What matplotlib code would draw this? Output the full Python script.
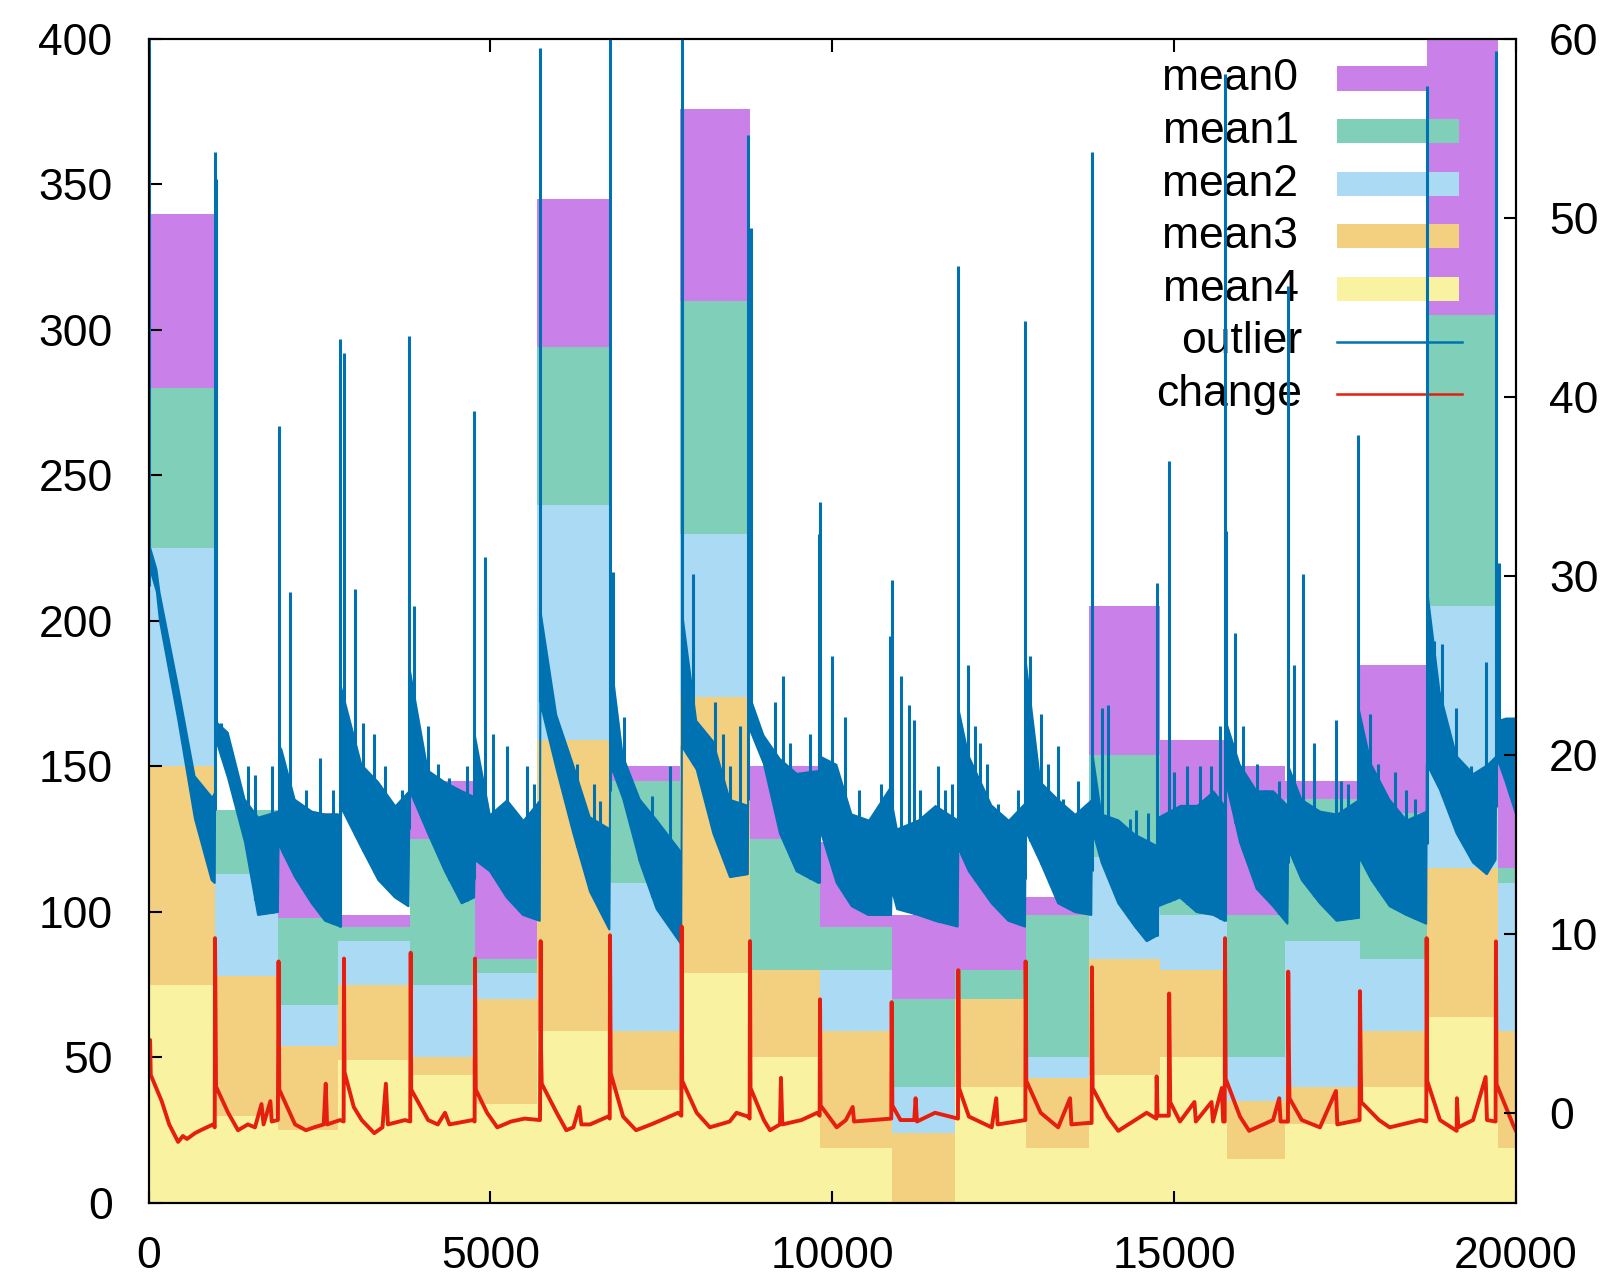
import numpy as np
import matplotlib
matplotlib.use('Agg')
import matplotlib.pyplot as plt
from matplotlib.patches import Rectangle

plt.rcParams['font.family'] = ['Liberation Sans', 'DejaVu Sans']

# ---------------- data ----------------
edges = [0, 970, 1895, 2770, 3820, 4775, 5680, 6750, 7775, 8800, 9820, 10870,
         11800, 12840, 13750, 14790, 15770, 16630, 17720, 18700, 19745, 20000]
mean0 = [340, 135, 134, 99, 145, 119, 345, 150, 376, 150, 124, 99, 120, 105, 205, 159, 150, 145, 185, 420, 165]
mean1 = [280, 135, 98, 95, 125, 84, 294, 145, 310, 125, 95, 70, 80, 99, 154, 129, 99, 139, 134, 305, 115]
mean2 = [225, 113, 68, 90, 75, 79, 240, 110, 230, 80, 80, 40, 70, 50, 119, 99, 50, 90, 84, 205, 110]
mean3 = [150, 78, 54, 75, 50, 70, 159, 59, 174, 80, 59, 24, 70, 43, 84, 80, 35, 40, 59, 115, 59]
mean4 = [75, 30, 25, 49, 44, 34, 59, 39, 79, 50, 19, 0, 40, 19, 44, 50, 15, 27, 40, 64, 19]

out_x = [0, 20, 120, 165, 433, 677, 921, 965,
         975, 1162, 1409, 1600, 1890,
         1900, 1950, 2141, 2385, 2580, 2805,
         2815, 3116, 3360, 3603, 3800,
         3815, 4088, 4335, 4579, 4760,
         4770, 4994, 5238, 5476, 5720,
         5730, 5969, 6213, 6457, 6740,
         6752, 6941, 7189, 7432, 7790,
         7800, 8017, 8261, 8505, 8765,
         8775, 9000, 9236, 9480, 9800,
         9815, 10066, 10286, 10527, 10860,
         10870, 10950, 11256, 11504, 11835,
         11845, 12000, 12333, 12577, 12820,
         12830, 13050, 13306, 13550, 13790,
         13800, 13942, 14186, 14430, 14601, 14760,
         14770, 15088, 15332, 15576, 15740,
         15750, 15966, 16210, 16450, 16660,
         16670, 16870, 17136, 17380, 17700,
         17710, 17890, 18156, 18400, 18690,
         18700, 18892, 19136, 19376, 19576, 19705,
         19715, 19850, 20000]
out_lo = [212, 218, 210, 200, 166, 132, 111, 110,
          160, 146, 124, 99, 100,
          124, 121, 112, 103, 97, 95,
          136, 122, 111, 105, 102,
          142, 127, 114, 103, 105,
          118, 114, 105, 99, 97,
          172, 149, 127, 107, 94,
          151, 139, 117, 101, 89,
          157, 149, 127, 112, 113,
          164, 151, 127, 114, 110,
          129, 110, 102, 99, 99,
          108, 101, 99, 97, 95,
          122, 114, 103, 97, 95,
          128, 117, 103, 100, 99,
          129, 117, 103, 95, 90, 92,
          102, 105, 100, 99, 97,
          146, 124, 108, 102, 96,
          122, 111, 103, 97, 98,
          119, 111, 102, 99, 96,
          151, 142, 127, 117, 113, 118,
          154, 145, 134]
out_hi = [226, 226, 218, 210, 178, 147, 140, 142,
          166, 162, 139, 133, 135,
          158, 156, 139, 135, 134, 134,
          178, 151, 145, 137, 142,
          185, 149, 145, 142, 140,
          162, 134, 139, 132, 139,
          205, 168, 151, 133, 129,
          190, 154, 139, 132, 121,
          205, 166, 159, 139, 137,
          176, 161, 153, 148, 149,
          154, 151, 134, 132, 144,
          139, 129, 132, 137, 132,
          171, 154, 137, 132, 138,
          188, 145, 139, 134, 139,
          157, 134, 132, 127, 125, 123,
          133, 137, 137, 142, 137,
          167, 151, 142, 142, 137,
          151, 139, 135, 134, 139,
          170, 151, 139, 132, 135,
          213, 176, 154, 148, 151, 154,
          166, 167, 167]

spike_x = [0, 970, 990, 1060, 1250, 1450, 1560, 1800,
           1900, 2060, 1990, 2300, 2510, 2700,
           2805, 2850, 3020, 3140, 3300, 3450, 3700,
           3810, 3885, 4088, 4230, 4400, 4650,
           4765, 4915, 5040, 5238, 5530, 5640,
           5730, 5900, 6270, 6510, 6600,
           6750, 6800, 6950, 7180, 7370, 7620,
           7800, 7963, 8280, 8400, 8500, 8650,
           8770, 8815, 9160, 9280, 9380, 9680,
           9800, 9822, 9990, 10190, 10390, 10720, 10850,
           10870, 11000, 11120, 11200, 11280, 11550, 11650, 11750,
           11845, 11980, 12090, 12160, 12260, 12420, 12720,
           12825, 12900, 13060, 13150, 13300, 13380, 13590,
           13795, 13942, 14030, 14350, 14450, 14620, 14745,
           14930, 15000, 15190, 15380, 15540, 15680,
           15740, 15765, 15900, 16010, 16220, 16330, 16540,
           16668, 16760, 16885, 17050, 17370, 17450, 17550,
           17700, 17870, 17990, 18230, 18400, 18520,
           18695, 18800, 18920, 19120, 19350, 19560,
           19710, 19760]
spike_top = [400, 361, 352, 165, 148, 150, 147, 150,
             267, 210, 148, 142, 153, 142,
             297, 292, 211, 165, 161, 150, 142,
             298, 205, 164, 151, 146, 150,
             272, 222, 161, 157, 150, 144,
             397, 175, 151, 144, 138,
             420, 217, 167, 139, 140, 150,
             420, 216, 172, 161, 150, 164,
             367, 335, 172, 181, 158, 161,
             230, 241, 188, 167, 142, 144, 195,
             214, 181, 171, 166, 142, 150, 142, 144,
             322, 185, 164, 158, 151, 137, 142,
             303, 188, 168, 151, 157, 139, 145,
             361, 170, 171, 132, 135, 134, 213,
             255, 148, 150, 150, 150, 164,
             388, 231, 196, 164, 151, 142, 145,
             315, 185, 216, 158, 166, 145, 144,
             264, 168, 151, 148, 142, 139,
             384, 193, 192, 170, 150, 186,
             396, 220]

chg_x = [0, 20, 30, 190, 300, 430, 500, 560, 677, 760, 850, 940, 966,
         970, 975, 985, 1162, 1307, 1450, 1555, 1650, 1680, 1780, 1800, 1890,
         1900, 1910, 2141, 2300, 2420, 2560, 2590, 2610, 2800,
         2852, 2857, 2865, 3000, 3116, 3300, 3420, 3470, 3500, 3750, 3826,
         3833, 3840, 4088, 4230, 4335, 4400, 4740, 4768,
         4774, 4785, 4950, 5100, 5300, 5500, 5725,
         5735, 5740, 5750, 5969, 6110, 6213, 6300, 6330, 6457, 6720, 6745,
         6749, 6760, 6941, 7130, 7350, 7500, 7745, 7793,
         7798, 7805, 8017, 8210, 8500, 8600, 8769, 8792,
         8797, 8805, 9000, 9090, 9236, 9250, 9270, 9550, 9780, 9816,
         9822, 9830, 10066, 10200, 10300, 10320, 10600, 10864,
         10870, 10880, 11000, 11200, 11220, 11240, 11504, 11840,
         11845, 11855, 12000, 12333, 12400, 12420, 12821, 12826,
         12830, 12840, 13050, 13306, 13480, 13500, 13740, 13795,
         13800, 13810, 14030, 14186, 14600, 14742, 14747, 14760, 14925,
         14930, 14945, 15088, 15300, 15320, 15550, 15570, 15700, 15720, 15743,
         15747, 15757, 15966, 16100, 16450, 16540, 16560, 16668,
         16672, 16680, 16690, 16870, 17136, 17370, 17390, 17700, 17716,
         17721, 17730, 17740, 18000, 18156, 18600, 18692,
         18697, 18705, 18892, 19136, 19140, 19160, 19376, 19560, 19580, 19706,
         19711, 19720, 19960, 20000]
chg_y = [56, 56, 44, 35, 27, 21, 23, 22, 24, 25, 26, 27, 26,
         91, 76, 40, 31, 25, 27, 26, 34, 27, 35, 28, 28.5,
         83, 39, 27, 25, 26, 27, 41, 27, 28.5,
         28, 84, 45, 33, 28.5, 24, 26, 41, 27, 28.5, 28,
         86, 39, 28.5, 27, 31, 27, 28.5, 28,
         84, 39, 31, 26, 28, 29, 28.5,
         90, 53, 41, 31, 25, 26, 33, 27, 27, 29.7, 29,
         92, 44.5, 29.7, 25, 27, 28.5, 31, 30,
         95, 42, 31, 26, 28, 31, 29.7, 29,
         90, 39.5, 28.5, 25, 27, 43, 27, 28.5, 31, 30,
         70, 33.5, 26, 28.5, 33, 28, 28.5, 29,
         69, 33.5, 28.5, 28.5, 36, 28, 31, 29,
         80, 39.5, 29.7, 26, 36, 27, 28.5, 28.5,
         83, 42, 31, 26, 36, 27, 27.5, 27.5,
         81, 39.5, 29.7, 24.8, 31, 29, 43.5, 30, 30,
         72, 34.7, 28, 34.7, 28, 34.7, 28, 39.5, 28, 28,
         91, 42.7, 29.7, 24.8, 28.5, 36, 28, 28,
         79.5, 55.7, 36, 28.5, 26, 38.5, 27, 28.5, 28.5,
         72.8, 55.7, 34.7, 28.5, 26, 28.5, 28,
         91, 42, 28.5, 24.8, 36, 26, 28.5, 43.3, 28.5, 28,
         89.9, 40.8, 27, 25]

xticks = [0, 5000, 10000, 15000, 20000]
yticks = [0, 50, 100, 150, 200, 250, 300, 350, 400]
y2ticks = [0, 10, 20, 30, 40, 50, 60]
mean_labels = ['mean0', 'mean1', 'mean2', 'mean3', 'mean4']
line_labels = ['outlier', 'change']

# ---------------- style ----------------
mean_colors = ['#ca80e9', '#80cfb9', '#abdaf4', '#f3cf80', '#f8f2a1']
c_out = '#0072b2'
c_chg = '#e51e10'
FS = 32

fig = plt.figure(figsize=(16.08, 12.77), dpi=100)
ax = fig.add_axes([0.09248, 0.05795, 0.85012, 0.91151])

for vals, col in zip([mean0, mean1, mean2, mean3, mean4], mean_colors):
    ax.stairs(vals, edges, baseline=0, fill=True, color=col, linewidth=0, zorder=1)

ax.fill_between(out_x, out_lo, out_hi, color=c_out, linewidth=0, zorder=4)
ax.plot(out_x, out_lo, color=c_out, linewidth=1.5, zorder=4)
base = np.interp(spike_x, out_x, out_lo)
ax.vlines(spike_x, base, spike_top, color=c_out, linewidth=2.2, zorder=4)

ax.plot(chg_x, chg_y, color=c_chg, linewidth=2.8, zorder=5)

ax.set_xlim(0, 20000)
ax.set_ylim(0, 400)
ax.set_xticks(xticks)
ax.set_yticks(yticks)
ax.tick_params(axis='x', direction='in', length=9, width=1.5, top=True,
               labelsize=FS, pad=24)
ax.tick_params(axis='y', direction='in', length=9, width=1.5, right=False,
               labelsize=FS, pad=26)
for s in ax.spines.values():
    s.set_linewidth(1.5)

ax2 = ax.twinx()
ax2.set_ylim(-5, 60)
ax2.set_yticks(y2ticks)
ax2.tick_params(axis='y', direction='in', length=9, width=1.5,
                labelsize=FS, pad=24)
for s in ax2.spines.values():
    s.set_linewidth(1.5)

# legend (drawn manually, no frame)
tx = 0.8411
x0, x1 = 0.8695, 0.9587
yc = [0.9659, 0.9210, 0.8754, 0.8308, 0.7852, 0.7399, 0.6950]
for i, (lab, col) in enumerate(zip(mean_labels, mean_colors)):
    ax.text(tx, yc[i] - 0.0100, lab, transform=ax.transAxes, ha='right',
            va='baseline', fontsize=FS, zorder=3)
    ax.add_patch(Rectangle((x0, yc[i] - 0.0105), x1 - x0, 0.021,
                           transform=ax.transAxes, facecolor=col,
                           edgecolor='none', zorder=3))
for j, (lab, col) in enumerate(zip(line_labels, [c_out, c_chg])):
    y = yc[5 + j]
    ax.text(tx + 0.003, y - 0.0100, lab, transform=ax.transAxes, ha='right',
            va='baseline', fontsize=FS, zorder=3)
    ax.plot([x0, x1 + 0.002], [y, y], transform=ax.transAxes, color=col,
            linewidth=1.8, zorder=3)

fig.savefig('out.png', dpi=100)
